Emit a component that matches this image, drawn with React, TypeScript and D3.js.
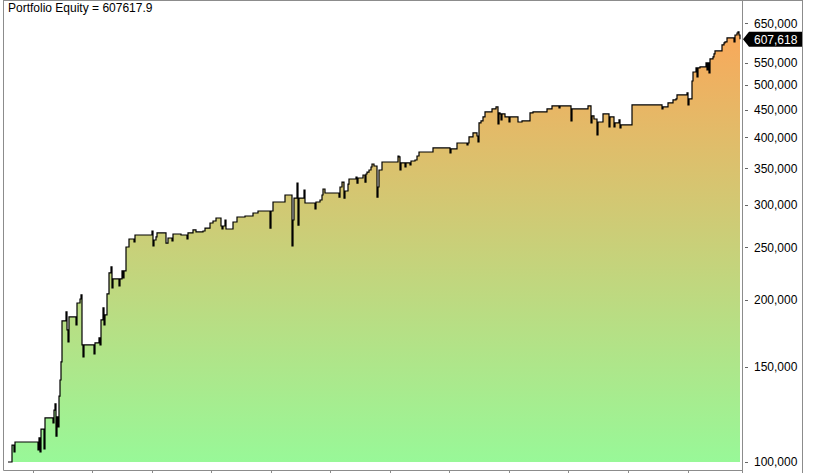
import React, { useEffect, useRef } from 'react';
import * as d3 from 'd3';

const WIDTH = 817;
const HEIGHT = 473;

const title = 'Portfolio Equity = 607617.9';
const lastEquity = 607618;

// bar number where the equity changes, and the equity from that bar on
const bars = [
  0, 4, 6, 7, 30, 31, 32, 33, 36, 37, 45, 46, 47, 48, 49, 50, 51, 52, 53, 54,
  58, 59, 60, 61, 68, 69, 72, 73, 74, 75, 76, 86, 87, 91, 92, 93, 95, 96, 97, 99,
  101, 103, 104, 105, 111, 112, 114, 115, 116, 118, 121, 126, 127, 144, 145, 146, 148, 149, 158, 160,
  164, 165, 173, 179, 180, 185, 188, 195, 197, 202, 205, 208, 213, 214, 215, 217, 218, 225, 229, 237,
  245, 250, 262, 263, 265, 277, 284, 285, 286, 289, 290, 291, 296, 297, 307, 308, 312, 314, 315, 317,
  331, 332, 334, 336, 337, 340, 341, 348, 349, 350, 355, 357, 358, 359, 361, 363, 364, 366, 369, 370,
  371, 374, 390, 391, 392, 393, 397, 398, 402, 403, 407, 409, 411, 425, 442, 443, 449, 459, 460, 461,
  465, 469, 470, 471, 473, 475, 477, 484, 488, 490, 491, 492, 493, 494, 497, 501, 502, 510, 514, 522,
  525, 539, 544, 551, 552, 563, 564, 580, 583, 584, 586, 589, 590, 595, 601, 602, 606, 607, 611, 612,
  613, 624, 654, 655, 660, 665, 668, 669, 679, 680, 681, 684, 685, 688, 689, 690, 692, 698, 699, 700,
  701, 702, 705, 706, 707, 714, 716, 717, 719, 726, 727, 729, 730, 731, 732,
];

const equity = [
  100000, 107500, 104400, 108900, 105300, 110800, 104400, 115100, 105700, 120700, 118100, 124800, 128100, 111700, 121200, 116100, 132500, 141900, 153300, 182600,
  189700, 175700, 166900, 185700, 179500, 197100, 200500, 204000, 164800, 156600, 164800, 158600, 166200, 169800, 164800, 183400, 193000, 179500, 187300, 204900,
  224100, 229900, 210200, 218400, 212000, 218400, 226000, 219300, 226000, 250300, 259000, 255700, 263500, 268000, 251400, 257900, 261300, 265800, 254600, 260100,
  256800, 264600, 263500, 259000, 265800, 269200, 266900, 268000, 271400, 277300, 279700, 283300, 273800, 270300, 273800, 280900, 270300, 278500, 284500, 285700,
  289400, 291900, 271400, 291900, 303300, 312500, 251400, 280900, 308500, 328900, 274900, 308500, 319200, 302000, 294400, 303300, 305900, 312500, 320600, 315200,
  309800, 323400, 330300, 308500, 317900, 327500, 334600, 337500, 328900, 336000, 340400, 330300, 341800, 344700, 347700, 352200, 356700, 353700, 309800, 323400,
  347700, 359800, 369100, 367600, 347700, 358300, 352200, 358300, 355200, 361300, 362900, 369100, 375500, 382000, 373900, 380400, 390200, 386900, 390200, 400400,
  407300, 402000, 391900, 425000, 428700, 436100, 445500, 451200, 455100, 423200, 443600, 441700, 430500, 441700, 436100, 426800, 436100, 426800, 428700, 443600,
  445500, 451200, 457000, 453100, 457000, 428700, 451200, 457000, 425000, 437900, 432300, 403800, 426800, 441700, 417800, 436100, 417800, 425000, 430500, 416000,
  421400, 459000, 451200, 455100, 462900, 468900, 470900, 479000, 483100, 459000, 470900, 508400, 528300, 537600, 517200, 537600, 539900, 549200, 533000, 549200,
  526100, 558700, 563500, 570700, 578100, 592900, 598000, 600600, 610900, 600600, 618700, 624000, 626700, 618700, lastEquity,
];

const monthTicks = [25, 84, 144, 203, 263, 322, 382, 441, 501, 560, 620, 680];
// 600,000 sits under the last-value marker, so it is not labelled
const priceTicks = [
  100000, 150000, 200000, 250000, 300000, 350000, 400000, 450000, 500000, 550000, 650000,
];

const App: React.FC = () => {
  const svgRef = useRef<SVGSVGElement>(null);

  useEffect(() => {
    if (!svgRef.current) return;
    const svg = d3.select(svgRef.current);
    svg.selectAll('*').remove();

    const left = 3.5;
    const axisX = 742.5;
    const rightEdge = 802.5;
    const bottom = 470.5;
    const font = '"Liberation Sans", Arial, sans-serif';

    const x = d3.scaleLinear().domain([0, 732]).range([8, 740]);
    const y = d3.scaleLog().domain([96230, 718300]).range([471, 0]);

    const points = bars.map((b, i) => ({ bar: b, value: equity[i] }));

    // gradient fill, green at the bottom to orange at the top
    const defs = svg.append('defs');
    const grad = defs.append('linearGradient')
      .attr('id', 'eqFill')
      .attr('gradientUnits', 'userSpaceOnUse')
      .attr('x1', 0).attr('x2', 0)
      .attr('y1', y(100000)).attr('y2', y(630000));
    grad.append('stop').attr('offset', 0).attr('stop-color', '#98f898');
    grad.append('stop').attr('offset', 1).attr('stop-color', '#f9a85a');

    svg.append('path')
      .datum(points)
      .attr('fill', 'url(#eqFill)')
      .attr('d', d3.area<{ bar: number; value: number }>()
        .x(d => x(d.bar))
        .y0(y(100000))
        .y1(d => y(d.value))
        .curve(d3.curveStepAfter));

    svg.append('path')
      .datum(points)
      .attr('fill', 'none')
      .attr('stroke', '#000')
      .attr('stroke-width', 1.2)
      .attr('d', d3.line<{ bar: number; value: number }>()
        .x(d => x(d.bar))
        .y(d => y(d.value))
        .curve(d3.curveStepAfter));

    // frame
    const frame = svg.append('g').attr('stroke', '#8c8c8c').attr('stroke-width', 1);
    frame.append('line').attr('x1', left).attr('x2', rightEdge).attr('y1', 0.5).attr('y2', 0.5);
    frame.append('line').attr('x1', left).attr('x2', left).attr('y1', 0).attr('y2', bottom);
    frame.append('line').attr('x1', left).attr('x2', axisX).attr('y1', bottom).attr('y2', bottom);
    frame.append('line').attr('x1', axisX).attr('x2', axisX).attr('y1', 0).attr('y2', HEIGHT);
    frame.append('line').attr('x1', rightEdge).attr('x2', rightEdge).attr('y1', 0).attr('y2', HEIGHT);

    // bottom ticks
    frame.selectAll('.xtick')
      .data(monthTicks)
      .join('line')
      .attr('class', 'xtick')
      .attr('x1', d => Math.round(x(d)) + 0.5)
      .attr('x2', d => Math.round(x(d)) + 0.5)
      .attr('y1', bottom)
      .attr('y2', HEIGHT);

    // right axis
    const fmt = d3.format(',');
    const yt = svg.append('g');
    yt.selectAll('line')
      .data(priceTicks)
      .join('line')
      .attr('x1', 745)
      .attr('x2', 748)
      .attr('y1', d => Math.round(y(d)) + 0.5)
      .attr('y2', d => Math.round(y(d)) + 0.5)
      .attr('stroke', '#666');
    yt.selectAll('text')
      .data(priceTicks)
      .join('text')
      .attr('x', 754)
      .attr('y', d => y(d) + 4.5)
      .attr('fill', '#000')
      .style('font-family', font)
      .style('font-size', '12px')
      .text(d => fmt(d));

    // last value marker
    const ly = y(lastEquity);
    svg.append('path')
      .attr('d', `M743,${ly} L749,${ly - 7.5} L802,${ly - 7.5} L802,${ly + 7.5} L749,${ly + 7.5} Z`)
      .attr('fill', '#000');
    svg.append('text')
      .attr('x', 754)
      .attr('y', ly + 4.5)
      .attr('fill', '#fff')
      .style('font-family', font)
      .style('font-size', '12px')
      .text(fmt(Math.round(lastEquity)));

    // title
    svg.append('text')
      .attr('x', 8)
      .attr('y', 12)
      .attr('fill', '#000')
      .style('font-family', font)
      .style('font-size', '12px')
      .text(title);
  }, []);

  return (
    <svg
      ref={svgRef}
      width={WIDTH}
      height={HEIGHT}
      style={{ position: 'absolute', left: 0, top: 0, background: '#fff' }}
    />
  );
};

export default App;
